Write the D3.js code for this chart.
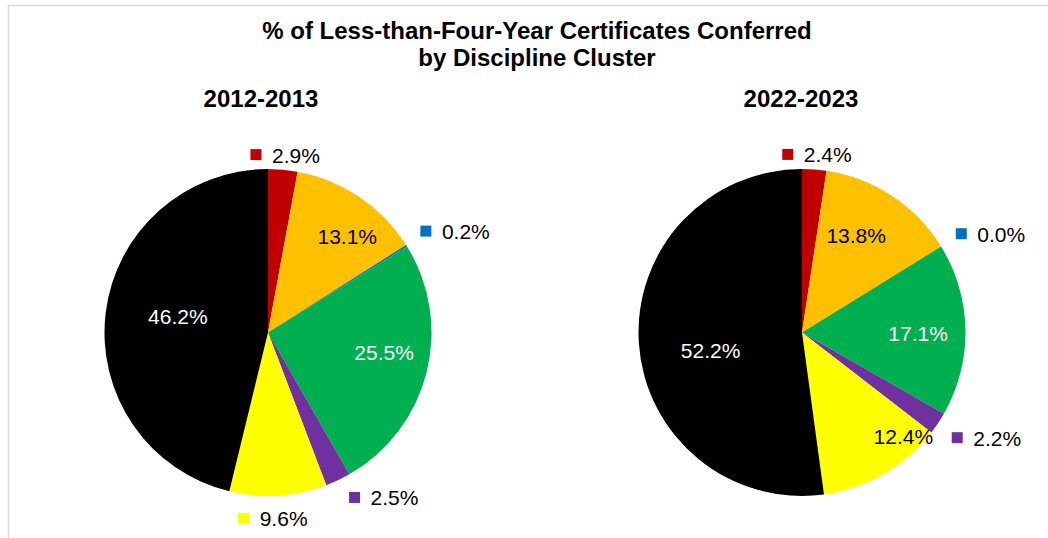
<!DOCTYPE html>
<html><head><meta charset="utf-8">
<script src="https://cdn.jsdelivr.net/npm/d3@7"></script>
<style>html,body{margin:0;padding:0;background:#fff;}svg{display:block;font-family:"Liberation Sans",Arial,sans-serif;}</style>
</head><body>
<svg id="chart" width="1048" height="538"></svg>
<script>
const title = ["% of Less-than-Four-Year Certificates Conferred", "by Discipline Cluster"];
const periods = ["2012-2013", "2022-2023"];
const clusters = ["Cluster 1", "Cluster 2", "Cluster 3", "Cluster 4", "Cluster 5", "Cluster 6", "Cluster 7"];
const values2012 = [2.9, 13.1, 0.2, 25.5, 2.5, 9.6, 46.2];
const values2022 = [2.4, 13.8, 0.0, 17.1, 2.2, 12.4, 52.2];
const colors = ["#C00000", "#FFC000", "#0070C0", "#00B050", "#7030A0", "#FFFF00", "#000000"];
const labelColors = ["#000", "#000", "#000", "#fff", "#000", "#000", "#fff"];
// label placement: [radius factor, angle nudge in degrees, show key]
const labelLayout2012 = [[1.09,0.3,1],[0.76,5.6,0],[1.30,3.7,1],[0.72,-4.6,0],[1.235,-9.6,1],[1.14,2.1,1],[0.56,3,0]];
const labelLayout2022 = [[1.09,0.5,1],[0.68,-4.3,0],[1.30,4.2,1],[0.71,1.6,0],[1.30,-3.9,1],[0.89,-14.1,0],[0.57,-7.4,0]];

const svg = d3.select("#chart");
const W = 1048, H = 538;

svg.append("rect").attr("x",8.5).attr("y",5.5).attr("width",W+10).attr("height",H+10)
  .attr("fill","#fff").attr("stroke","#d9d9d9").attr("stroke-width",1.5);

svg.selectAll("text.title").data(title).enter().append("text")
  .attr("class","title").attr("x",537).attr("y",(d,i)=>39+i*26.5)
  .attr("text-anchor","middle").attr("font-weight","bold").attr("font-size",24).attr("fill","#000")
  .text(d=>d);

const pieGen = d3.pie().sort(null).value(d=>d);
const R = 163.5;
const arc = d3.arc().innerRadius(0).outerRadius(R);
const charts = [
  {cx:268, cy:332.5, values:values2012, layout:labelLayout2012, period:periods[0], tx:261},
  {cx:802, cy:332.5, values:values2022, layout:labelLayout2022, period:periods[1], tx:801}
];
charts.forEach(c=>{
  svg.append("text").attr("x",c.tx).attr("y",107).attr("text-anchor","middle")
    .attr("font-weight","bold").attr("font-size",24).text(c.period);
  const g = svg.append("g").attr("transform",`translate(${c.cx},${c.cy})`);
  const arcs = pieGen(c.values);
  g.selectAll("path").data(arcs).enter().append("path")
    .attr("d",arc).attr("fill",(d,i)=>colors[i]);
  arcs.forEach((d,i)=>{
    const [rf, nudge, key] = c.layout[i];
    const a = (d.startAngle+d.endAngle)/2 + nudge*Math.PI/180;
    const x = Math.sin(a)*R*rf, y = -Math.cos(a)*R*rf;
    const txt = d3.format(".1f")(d.value)+"%";
    const lg = g.append("g").attr("transform",`translate(${x},${y})`);
    const t = lg.append("text").attr("font-size",21).attr("fill",labelColors[i])
      .attr("dominant-baseline","central").text(txt);
    const tw = t.node().getComputedTextLength();
    if(key){
      const total = 11+10.5+tw;
      lg.append("rect").attr("x",-total/2).attr("y",-6).attr("width",11).attr("height",11).attr("fill",colors[i]);
      t.attr("x",-total/2+21.5);
    } else {
      t.attr("text-anchor","middle");
    }
  });
});
</script>
</body></html>
